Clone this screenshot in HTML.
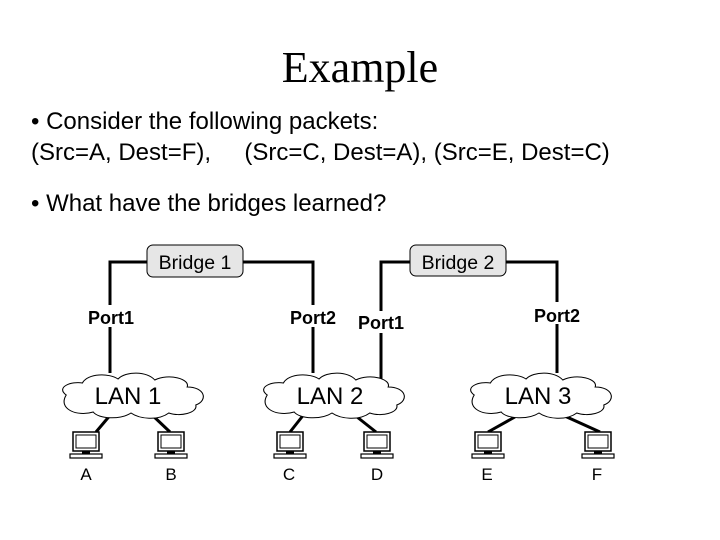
<!DOCTYPE html>
<html><head><style>
body{margin:0;width:720px;height:540px;background:#fff;overflow:hidden;font-family:"Liberation Sans",sans-serif}
.t{position:absolute;white-space:pre;color:#000}
</style></head><body>
<div class="t" style="left:0;width:720px;text-align:center;top:42px;font:44px 'Liberation Serif',serif">Example</div>
<div class="t" style="left:31px;top:108px;font-size:24px">• Consider the following packets:</div>
<div class="t" style="left:31px;top:139px;font-size:24px">(Src=A, Dest=F),     (Src=C, Dest=A), (Src=E, Dest=C)</div>
<div class="t" style="left:31px;top:190px;font-size:24px">• What have the bridges learned?</div>
<svg width="720" height="540" style="position:absolute;left:0;top:0" font-family="Liberation Sans, sans-serif">
<defs>
<g id="pc">
<rect x="-14" y="0" width="26" height="19" fill="#fff" stroke="#000" stroke-width="1.5"/>
<rect x="-11" y="3" width="20" height="13" fill="#fff" stroke="#000" stroke-width="1"/>
<rect x="-5" y="19" width="8" height="3" fill="#000"/>
<rect x="-17" y="22" width="32" height="4" fill="#fff" stroke="#000" stroke-width="1.2"/>
</g>
<g id="cloud">
<path d="M-60,0 C-70,-8 -55,-14 -45,-12 C-40,-22 -20,-22 -12,-16 C-5,-24 15,-24 22,-15 C35,-22 55,-16 52,-8 C68,-8 72,5 60,10 C62,18 45,22 35,18 C25,26 8,24 0,18 C-10,25 -30,24 -35,17 C-50,22 -68,14 -60,0 Z" fill="#fff" stroke="#000" stroke-width="1"/>
</g>
</defs>
<g stroke="#000" stroke-width="3" fill="none">
<polyline points="110,373 110,262 147,262"/>
<polyline points="243,262 313,262 313,373"/>
<polyline points="381,385 381,262 410,262"/>
<polyline points="506,262 557,262 557,373"/>
<line x1="112" y1="413" x2="96" y2="432"/>
<line x1="150" y1="413" x2="170" y2="432"/>
<line x1="305" y1="413" x2="290" y2="432"/>
<line x1="352" y1="413" x2="376" y2="432"/>
<line x1="522" y1="413" x2="488" y2="432"/>
<line x1="558" y1="413" x2="600" y2="432"/>
</g>
<rect x="147" y="245" width="96" height="32" rx="6" fill="#e6e6e6" stroke="#000"/>
<rect x="410" y="245" width="96" height="31" rx="6" fill="#e6e6e6" stroke="#000"/>
<text x="195" y="269" font-size="19.5" text-anchor="middle">Bridge 1</text>
<text x="458" y="269" font-size="19.5" text-anchor="middle">Bridge 2</text>
<g font-size="18" text-anchor="middle" font-weight="bold">
<rect x="82" y="305" width="56" height="22" fill="#fff"/><text x="111" y="324">Port1</text>
<rect x="285" y="305" width="56" height="22" fill="#fff"/><text x="313" y="324">Port2</text>
<rect x="353" y="311" width="56" height="22" fill="#fff"/><text x="381" y="329">Port1</text>
<rect x="529" y="302" width="56" height="22" fill="#fff"/><text x="557" y="322">Port2</text>
</g>
<use href="#cloud" transform="translate(131,395) scale(1.08,1)"/>
<use href="#cloud" transform="translate(332,395) scale(1.08,1)"/>
<use href="#cloud" transform="translate(539,395) scale(1.08,1)"/>
<g font-size="24" text-anchor="middle">
<text x="128" y="404">LAN 1</text>
<text x="330" y="404">LAN 2</text>
<text x="538" y="404">LAN 3</text>
</g>
<use href="#pc" transform="translate(87,432)"/>
<use href="#pc" transform="translate(172,432)"/>
<use href="#pc" transform="translate(291,432)"/>
<use href="#pc" transform="translate(378,432)"/>
<use href="#pc" transform="translate(489,432)"/>
<use href="#pc" transform="translate(599,432)"/>
<g font-size="17" text-anchor="middle">
<text x="86" y="480">A</text><text x="171" y="480">B</text><text x="289" y="480">C</text>
<text x="377" y="480">D</text><text x="487" y="480">E</text><text x="597" y="480">F</text>
</g>
</svg>
</body></html>
